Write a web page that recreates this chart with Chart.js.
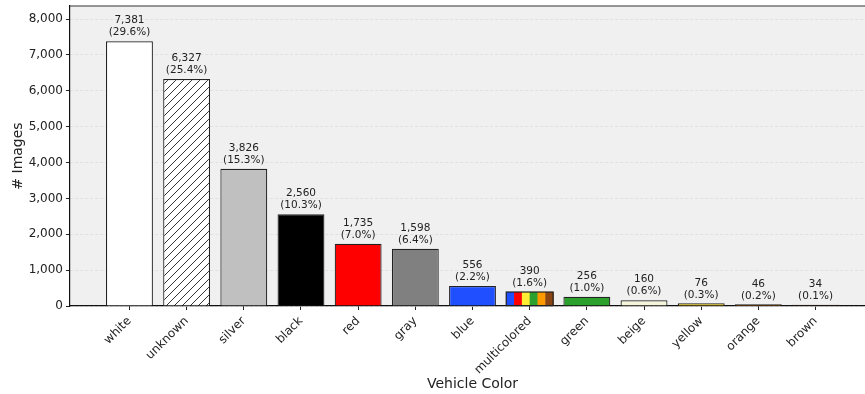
<!DOCTYPE html>
<html>
<head>
<meta charset="utf-8">
<script src="https://cdn.jsdelivr.net/npm/chart.js@4/dist/chart.umd.min.js"></script>
<style>
  html, body { margin: 0; padding: 0; overflow: hidden; background: #fff; }
  #wrap { width: 875px; height: 394px; }
</style>
</head>
<body>
<div id="wrap"><canvas id="chart"></canvas></div>
<script>
const categories = ['white', 'unknown', 'silver', 'black', 'red', 'gray', 'blue',
  'multicolored', 'green', 'beige', 'yellow', 'orange', 'brown'];
const counts = [7381, 6327, 3826, 2560, 1735, 1598, 556, 390, 256, 160, 76, 46, 34];
const percents = [29.6, 25.4, 15.3, 10.3, 7.0, 6.4, 2.2, 1.6, 1.0, 0.6, 0.3, 0.2, 0.1];
const yTicks = [0, 1000, 2000, 3000, 4000, 5000, 6000, 7000, 8000];
const stripeColors = ['#1f4fff', '#ff0000', '#ffee33', '#2ca02c', '#ff9900', '#8b4513'];

const FONT = "'DejaVu Sans', sans-serif";
const TEXT = '#222';

// hatch pattern for "unknown"
function hatch() {
  const s = 8;
  const c = document.createElement('canvas');
  c.width = s; c.height = s;
  const g = c.getContext('2d');
  g.fillStyle = '#fff';
  g.fillRect(0, 0, s, s);
  g.strokeStyle = '#333';
  g.lineWidth = 1;
  g.beginPath();
  g.moveTo(0, s); g.lineTo(s, 0);
  g.moveTo(-1, 1); g.lineTo(1, -1);
  g.moveTo(s - 1, s + 1); g.lineTo(s + 1, s - 1);
  g.stroke();
  return g.createPattern(c, 'repeat');
}

const barColors = ['#ffffff', hatch(), '#c0c0c0', '#000000', '#ff0000', '#808080', '#1f4fff',
  '#ffffff', '#2ca02c', '#f5f5dc', '#ffd700', '#ff8c00', '#8b4513'];

const frame = {
  id: 'frame',
  beforeDraw(chart) {
    const {ctx, chartArea: a} = chart;
    ctx.save();
    ctx.fillStyle = '#f0f0f0';
    ctx.fillRect(a.left, a.top, a.right - a.left, a.bottom - a.top);
    ctx.restore();
  },
  afterDraw(chart) {
    const {ctx, chartArea: a} = chart;
    ctx.save();
    ctx.strokeStyle = '#333';
    ctx.lineWidth = 1.2;
    ctx.beginPath();
    ctx.moveTo(a.left, a.top);
    ctx.lineTo(a.right, a.top);
    ctx.stroke();
    ctx.restore();
  }
};

const barText = {
  id: 'barText',
  afterDatasetsDraw(chart) {
    const ctx = chart.ctx;
    const bars = chart.getDatasetMeta(0).data;
    ctx.save();
    // multicolored stripes
    const m = bars[7];
    const left = m.x - m.width / 2;
    const w = m.width / stripeColors.length;
    stripeColors.forEach((c, k) => {
      ctx.fillStyle = c;
      ctx.fillRect(left + k * w, m.y, w + 0.5, m.base - m.y);
    });
    ctx.strokeStyle = '#222';
    ctx.lineWidth = 1.2;
    ctx.strokeRect(left, m.y, m.width, m.base - m.y);

    ctx.fillStyle = TEXT;
    ctx.font = '10.5px ' + FONT;
    ctx.textAlign = 'center';
    ctx.textBaseline = 'middle';
    bars.forEach((b, i) => {
      ctx.fillText(counts[i].toLocaleString('en-US'), b.x, b.y - 20.5);
      ctx.fillText('(' + percents[i].toFixed(1) + '%)', b.x, b.y - 8.5);
    });
    ctx.restore();
  }
};

new Chart(document.getElementById('chart'), {
  type: 'bar',
  data: {
    datasets: [{
      data: counts.map((v, i) => ({x: i, y: v})),
      backgroundColor: barColors,
      borderColor: '#222',
      borderWidth: 1.2,
      barPercentage: 0.82,
      categoryPercentage: 1
    }]
  },
  plugins: [frame, barText],
  options: {
    responsive: true,
    maintainAspectRatio: false,
    animation: false,
    layout: { padding: { top: 6, left: 0, right: 0, bottom: 0 } },
    plugins: { legend: { display: false }, tooltip: { enabled: false } },
    scales: {
      x: {
        type: 'linear',
        min: -1.04,
        max: 13.04,
        offset: false,
        afterBuildTicks(scale) { scale.ticks = categories.map((c, i) => ({value: i})); },
        afterFit(scale) { scale.height = 88; scale.paddingLeft = 0; scale.paddingRight = 0; },
        grid: { offset: false, drawOnChartArea: false, tickLength: 4, tickColor: TEXT, tickWidth: 1 },
        border: { color: '#111', width: 1.2 },
        ticks: {
          autoSkip: false,
          maxRotation: 45,
          minRotation: 45,
          padding: 4,
          color: TEXT,
          font: { family: FONT, size: 12 },
          callback: v => categories[v]
        },
        title: {
          display: true,
          text: 'Vehicle Color',
          color: TEXT,
          font: { family: FONT, size: 14 },
          padding: { top: 0, bottom: 1 }
        }
      },
      y: {
        min: 0,
        max: 8363,
        afterBuildTicks(scale) { scale.ticks = yTicks.map(v => ({value: v})); },
        afterFit(scale) { scale.width = 70; scale.paddingTop = 0; scale.paddingBottom = 0; },
        grid: { color: '#dcdcdc', lineWidth: 0.8, tickLength: 4, tickColor: TEXT, tickWidth: 1 },
        border: { color: '#111', width: 1.2, dash: [3, 2] },
        ticks: {
          padding: 3,
          color: TEXT,
          font: { family: FONT, size: 12 },
          callback: v => v.toLocaleString('en-US')
        },
        title: {
          display: true,
          text: '# Images',
          color: TEXT,
          font: { family: FONT, size: 14 },
          padding: { top: 10, bottom: 0 }
        }
      }
    }
  }
});
</script>
</body>
</html>
